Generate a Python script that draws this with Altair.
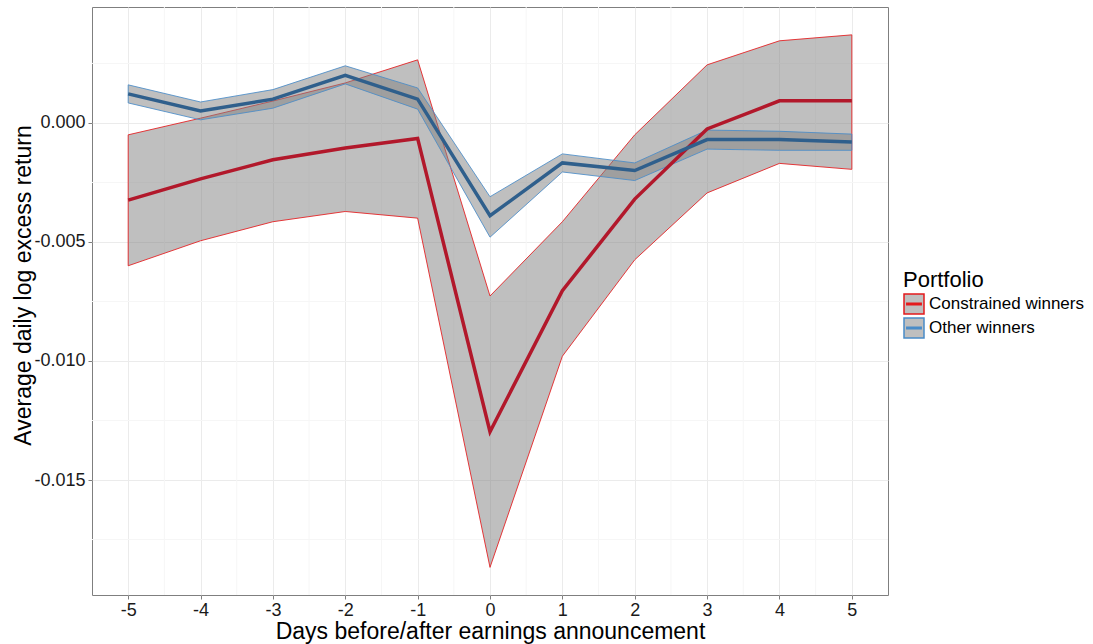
import altair as alt
import pandas as pd

days = [-5, -4, -3, -2, -1, 0, 1, 2, 3, 4, 5]
portfolios = ["Constrained winners", "Other winners"]

red_mean = [-0.00324, -0.00235, -0.00155, -0.00105, -0.00065, -0.01297, -0.00705, -0.0032, -0.00025, 0.00093, 0.00093]
red_lo = [-0.0060, -0.00495, -0.00415, -0.00372, -0.0040, -0.01867, -0.0098, -0.00575, -0.00294, -0.0017, -0.00195]
red_hi = [-0.0005, 0.0002, 0.00092, 0.00168, 0.00265, -0.00727, -0.00415, -0.0005, 0.00244, 0.00345, 0.0037]

blue_mean = [0.00122, 0.0005, 0.0010, 0.0020, 0.0010, -0.0039, -0.00168, -0.0020, -0.0007, -0.0007, -0.0008]
blue_lo = [0.00084, 0.00013, 0.00062, 0.00164, 0.00058, -0.0048, -0.00206, -0.00242, -0.0011, -0.00115, -0.00115]
blue_hi = [0.0016, 0.00088, 0.0014, 0.0024, 0.00147, -0.0031, -0.0013, -0.00168, -0.0003, -0.00035, -0.00047]

y_ticks = [-0.015, -0.010, -0.005, 0.000]
x_minor = [-4.5, -3.5, -2.5, -1.5, -0.5, 0.5, 1.5, 2.5, 3.5, 4.5]
y_minor = [-0.0175, -0.0125, -0.0075, -0.0025, 0.0025]

rows = []
for name, m, lo, hi in [(portfolios[0], red_mean, red_lo, red_hi),
                        (portfolios[1], blue_mean, blue_lo, blue_hi)]:
    for d, a, b, c in zip(days, m, lo, hi):
        rows.append({"day": d, "mean": a, "lo": b, "hi": c, "portfolio": name})
df = pd.DataFrame(rows)

FONT = "Liberation Sans"
W, H = 796, 588
xscale = alt.Scale(domain=[-5.5, 5.5], nice=False, zero=False)
yscale = alt.Scale(domain=[-0.01983, 0.00487], nice=False, zero=False)

x_axis = alt.Axis(values=days, title="Days before/after earnings announcement",
                  format="d", labelExpr="replace(datum.label, '\u2212', '-')",
                  grid=True, gridColor="#EBEBEB", gridWidth=1,
                  domain=False, ticks=True, tickSize=4, tickColor="#7F7F7F",
                  labelFont=FONT, labelFontSize=18, labelColor="#1A1A1A", labelPadding=2,
                  titleFont=FONT, titleFontSize=23, titleFontWeight="normal", titleColor="#000000",
                  titleX=W / 2, titleY=43, titleBaseline="alphabetic", titleAlign="center")
y_axis = alt.Axis(values=y_ticks, title="Average daily log excess return",
                  labelExpr="replace(format(datum.value, '.3f'), '\u2212', '-')",
                  grid=True, gridColor="#EBEBEB", gridWidth=1,
                  domain=False, ticks=True, tickSize=4, tickColor="#7F7F7F",
                  labelFont=FONT, labelFontSize=18, labelColor="#1A1A1A", labelPadding=3,
                  titleFont=FONT, titleFontSize=23, titleFontWeight="normal", titleColor="#000000",
                  titleX=-62, titleY=278, titleAngle=-90, titleBaseline="alphabetic",
                  titleAlign="center")

SYMBOL = "M-1,-1H1V1H-1Z M-0.72,-0.07H0.72V0.07H-0.72Z"
legend = alt.Legend(title="Portfolio", orient="none", legendX=811, legendY=263,
                    titleFont=FONT, titleFontSize=22, titleFontWeight="normal",
                    titleColor="#000000", titlePadding=1,
                    labelFont=FONT, labelFontSize=17, labelColor="#000000",
                    labelOffset=4,
                    symbolType=SYMBOL,
                    symbolSize=400, symbolFillColor="#BFBFBF",
                    symbolStrokeWidth=1.5,
                    rowPadding=-8, padding=0)
stroke_scale = alt.Scale(domain=portfolios, range=["#E41A1C", "#4A8CC8"])

minor_x = alt.Chart(pd.DataFrame({"v": x_minor})).mark_rule(color="#F6F6F6", strokeWidth=1).encode(
    x=alt.X("v:Q", scale=xscale, axis=x_axis))
minor_y = alt.Chart(pd.DataFrame({"v": y_minor})).mark_rule(color="#F6F6F6", strokeWidth=1).encode(
    y=alt.Y("v:Q", scale=yscale, axis=y_axis))

base = alt.Chart(df)

legend_layer = base.transform_filter("false").mark_point(
    shape=SYMBOL, filled=True, fill="#BFBFBF", size=400,
    strokeWidth=1.5, opacity=1).encode(
    x=alt.X("day:Q", scale=xscale, axis=x_axis),
    y=alt.Y("mean:Q", scale=yscale, axis=y_axis),
    stroke=alt.Stroke("portfolio:N", scale=stroke_scale, legend=legend),
)

areas = base.mark_area(fill="#7F7F7F", fillOpacity=0.5, strokeWidth=1, strokeOpacity=0.85).encode(
    x=alt.X("day:Q", scale=xscale, axis=x_axis),
    y=alt.Y("lo:Q", scale=yscale, axis=y_axis),
    y2="hi:Q",
    stroke=alt.Stroke("portfolio:N", scale=stroke_scale, legend=legend),
)
lines = base.mark_line(strokeWidth=3.5).encode(
    x=alt.X("day:Q", scale=xscale, axis=x_axis),
    y=alt.Y("mean:Q", scale=yscale, axis=y_axis),
    color=alt.Color("portfolio:N",
                    scale=alt.Scale(domain=portfolios, range=["#B2182B", "#2F5F8C"]),
                    legend=None),
)

chart = alt.layer(legend_layer, minor_x, minor_y, areas, lines).properties(
    width=W, height=H,
    autosize=alt.AutoSizeParams(type="none"),
    padding={"left": 92, "top": 7, "right": 1093 - 92 - W, "bottom": 644 - 7 - H},
    background="white",
).configure_view(stroke="#7F7F7F", strokeWidth=1)

chart.save("out.html", embed_options={"renderer": "svg", "actions": False})
